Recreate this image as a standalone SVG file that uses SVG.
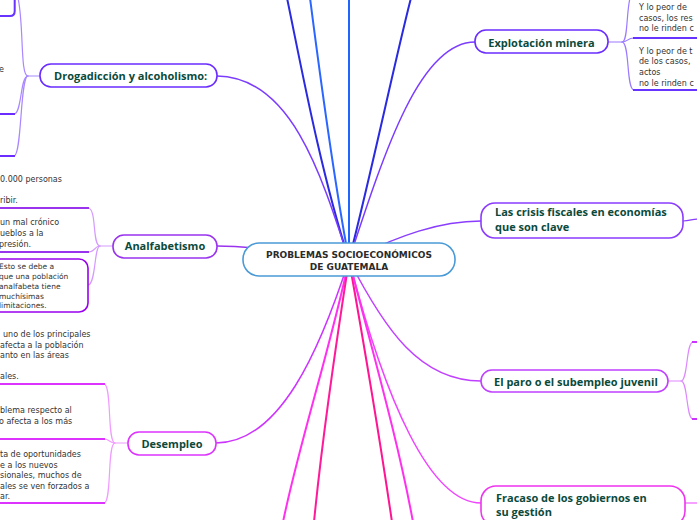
<svg xmlns="http://www.w3.org/2000/svg" width="697" height="520" viewBox="0 0 697 520">
<style>
.t{font-family:"Open Sans","DejaVu Sans",sans-serif;font-weight:bold;font-size:11px;fill:#0b4a3b}
.b{font-family:"DejaVu Sans","Liberation Sans",sans-serif;font-size:8px;fill:#333}
.c{fill:none;stroke-linecap:round}
.n{fill:#fff;stroke-width:1.6}
</style>
<g id="connectors">
  <path class="c" d="M349,260 C320,170 300,60 287,-2" stroke="#2a2ae0" stroke-width="2"/>
  <path class="c" d="M349,260 C332,170 318,60 310,-2" stroke="#2a66ff" stroke-width="2"/>
  <path class="c" d="M349,260 L349,-2" stroke="#1f66ff" stroke-width="2"/>
  <path class="c" d="M349,260 C372,170 395,60 411,-2" stroke="#2a2ae0" stroke-width="2"/>
  <path class="c" d="M349,260 C320,170 290,77 217,76" stroke="#7b3cff" stroke-width="1.5"/>
  <path class="c" d="M349,260 C385,150 420,42 475,42" stroke="#7b3cff" stroke-width="1.5"/>
  <path class="c" d="M349,260 C400,235 440,221 481,221" stroke="#8a3cff" stroke-width="1.5"/>
  <path class="c" d="M349,260 C290,252 250,246 217,246" stroke="#9933ee" stroke-width="1.5"/>
  <path class="c" d="M349,260 C385,330 420,381 481,381" stroke="#c040ff" stroke-width="1.5"/>
  <path class="c" d="M349,260 C385,400 430,503 481,503" stroke="#ee44ff" stroke-width="1.5"/>
  <path class="c" d="M349,260 C320,350 280,443 216,443" stroke="#cc33ff" stroke-width="1.5"/>
  <path class="c" d="M349,260 C330,350 300,440 283,522" stroke="#ff30ee" stroke-width="2"/>
  <path class="c" d="M349,260 C335,350 322,440 314,522" stroke="#ff1a9a" stroke-width="2"/>
  <path class="c" d="M349,260 C365,350 380,440 392,522" stroke="#ff1493" stroke-width="2"/>
  <path class="c" d="M349,260 C372,350 398,440 413,522" stroke="#ff30ee" stroke-width="2"/>
  <path class="c" d="M40,76 L28,76 C20,76 24,25 18,-2" stroke="#a887ff" stroke-width="1.2"/>
  <path class="c" d="M28,76 C20,76 22,114 14,114" stroke="#a887ff" stroke-width="1.2"/>
  <path class="c" d="M28,76 C20,76 22,156 14,156" stroke="#a887ff" stroke-width="1.2"/>
  <path class="c" d="M113,246 L100,246 C92,246 97,208 88,208" stroke="#d49bff" stroke-width="1.2"/>
  <path class="c" d="M100,246 C94,246 96,252 88,252" stroke="#d49bff" stroke-width="1.2"/>
  <path class="c" d="M100,246 C94,246 96,285 88,285" stroke="#d49bff" stroke-width="1.2"/>
  <path class="c" d="M128,443 L115,443 C107,443 112,384 104,384" stroke="#f09bff" stroke-width="1.2"/>
  <path class="c" d="M115,443 C109,443 110,439 104,439" stroke="#f09bff" stroke-width="1.2"/>
  <path class="c" d="M115,443 C107,443 112,503 104,503" stroke="#f09bff" stroke-width="1.2"/>
  <path class="c" d="M608,42 L622,42 C628,42 626,15 630,-2" stroke="#9a7bff" stroke-width="1.2"/>
  <path class="c" d="M622,42 C628,42 627,38 634,38" stroke="#9a7bff" stroke-width="1.2"/>
  <path class="c" d="M622,42 C630,42 626,90 634,90" stroke="#9a7bff" stroke-width="1.2"/>
  <path class="c" d="M683,221 C690,221 692,219 698,219" stroke="#8a3cff" stroke-width="1.2"/>
  <path class="c" d="M685,503 L698,503" stroke="#ee44ff" stroke-width="1.2"/>
  <path class="c" d="M668,381 L681,381 C688,381 686,342 693,342" stroke="#dd88ff" stroke-width="1.2"/>
  <path class="c" d="M681,381 C688,381 686,419 693,419" stroke="#dd88ff" stroke-width="1.2"/>
</g>

<g id="root">
  <rect class="n" x="243" y="243" width="212" height="33" rx="16" stroke="#4a9ad8"/>
  <text x="349" y="258" text-anchor="middle" font-family="'DejaVu Sans','Liberation Sans',sans-serif" font-weight="bold" font-size="9" fill="#2b2b2b">PROBLEMAS SOCIOECONÓMICOS</text>
  <text x="349" y="270" text-anchor="middle" font-family="'DejaVu Sans','Liberation Sans',sans-serif" font-weight="bold" font-size="9" fill="#2b2b2b">DE GUATEMALA</text>
</g>

<g id="drogadiccion">
  <rect class="n" x="40" y="64" width="177" height="23" rx="11" stroke="#6a2cff"/>
  <text class="t" x="54" y="80">Drogadicción y alcoholismo:</text>
</g>
<g id="drog-child-1">
  <path d="M-2,16 L10,16 Q14.7,16 14.7,11 L14.7,-2" fill="none" stroke="#6633ff" stroke-width="2"/>
</g>
<g id="drog-child-2">
  <text class="b" x="-1" y="72">e</text>
  <path d="M-2,114 L15,114" stroke="#6a2cff" stroke-width="2"/>
</g>
<g id="drog-child-3">
  <path d="M-2,156 L15,156" stroke="#6a2cff" stroke-width="2"/>
</g>

<g id="analfabetismo">
  <rect class="n" x="113" y="235" width="104" height="23" rx="11" stroke="#9933ee"/>
  <text class="t" x="165" y="250" text-anchor="middle">Analfabetismo</text>
</g>
<g id="analf-child-1">
  <text class="b" x="0" y="182">0.000 personas</text>
  <text class="b" x="0" y="203">ribir.</text>
  <path d="M-2,208 L89,208" stroke="#9933ee" stroke-width="2"/>
</g>
<g id="analf-child-2">
  <text class="b" x="0" y="225">un mal crónico</text>
  <text class="b" x="0" y="236">ueblos a la</text>
  <text class="b" x="-1" y="247">presión.</text>
  <path d="M-2,252 L89,252" stroke="#9933ee" stroke-width="2"/>
</g>
<g id="analf-child-3">
  <rect x="-12" y="259" width="100" height="53" rx="9" fill="#fff" stroke="#9900ee" stroke-width="1.6"/>
  <g font-family="'DejaVu Sans','Liberation Sans',sans-serif" font-size="7.5" fill="#333">
    <text x="-1" y="269">Esto se debe a</text>
    <text x="-1" y="279">que una población</text>
    <text x="-1" y="289">analfabeta tiene</text>
    <text x="-1" y="298.5">muchísimas</text>
    <text x="-1" y="308">limitaciones.</text>
  </g>
</g>

<g id="desempleo">
  <rect class="n" x="128" y="432" width="88" height="23" rx="11" stroke="#dd33ff"/>
  <text class="t" x="172" y="447.5" text-anchor="middle">Desempleo</text>
</g>
<g id="desem-child-1">
  <text class="b" x="3" y="337">uno de los principales</text>
  <text class="b" x="0" y="348">afecta a la población</text>
  <text class="b" x="0" y="358">anto en las áreas</text>
  <text class="b" x="0" y="379">ales.</text>
  <path d="M-2,384 L105,384" stroke="#dd33ff" stroke-width="2"/>
</g>
<g id="desem-child-2">
  <text class="b" x="0" y="413">blema respecto al</text>
  <text class="b" x="-1" y="424">o afecta a los más</text>
  <path d="M-2,439 L105,439" stroke="#dd33ff" stroke-width="2"/>
</g>
<g id="desem-child-3">
  <text class="b" x="0" y="457">ta de oportunidades</text>
  <text class="b" x="0" y="467.5">e a los nuevos</text>
  <text class="b" x="0" y="478">sionales, muchos de</text>
  <text class="b" x="0" y="488.5">ales se ven forzados a</text>
  <text class="b" x="0" y="499">ar.</text>
  <path d="M-2,503 L105,503" stroke="#dd33ff" stroke-width="2"/>
</g>

<g id="explotacion">
  <rect class="n" x="475" y="30" width="133" height="23" rx="11" stroke="#6a2cff"/>
  <text class="t" x="541.5" y="46.5" text-anchor="middle">Explotación minera</text>
</g>
<g id="explo-child-1">
  <text class="b" x="639" y="10">Y lo peor de</text>
  <text class="b" x="639" y="20.5">casos, los res</text>
  <text class="b" x="639" y="31">no le rinden c</text>
  <path d="M633,38 L699,38" stroke="#6633ff" stroke-width="2"/>
</g>
<g id="explo-child-2">
  <text class="b" x="639" y="54">Y lo peor de t</text>
  <text class="b" x="639" y="64">de los casos,</text>
  <text class="b" x="639" y="74.5">actos</text>
  <text class="b" x="639" y="85.5">no le rinden c</text>
  <path d="M633,90 L699,90" stroke="#6633ff" stroke-width="2"/>
</g>

<g id="crisis">
  <rect class="n" x="481" y="203" width="202" height="35" rx="14" stroke="#8a3cff"/>
  <text class="t" x="495" y="216">Las crisis fiscales en economías</text>
  <text class="t" x="495" y="230.5">que son clave</text>
</g>

<g id="paro">
  <rect class="n" x="481" y="370" width="187" height="22" rx="11" stroke="#c040ff"/>
  <text class="t" x="494" y="385.5">El paro o el subempleo juvenil</text>
</g>
<g id="paro-child-1">
  <path d="M692,342 L699,342" stroke="#cc33ff" stroke-width="2"/>
</g>
<g id="paro-child-2">
  <path d="M692,419 L699,419" stroke="#cc33ff" stroke-width="2"/>
</g>

<g id="fracaso">
  <rect class="n" x="481" y="486" width="204" height="40" rx="15" stroke="#ee33ee"/>
  <text class="t" x="496" y="502" font-size="12.3">Fracaso de los gobiernos en</text>
  <text class="t" x="496" y="515.5" font-size="12.3">su gestión</text>
</g>
</svg>
